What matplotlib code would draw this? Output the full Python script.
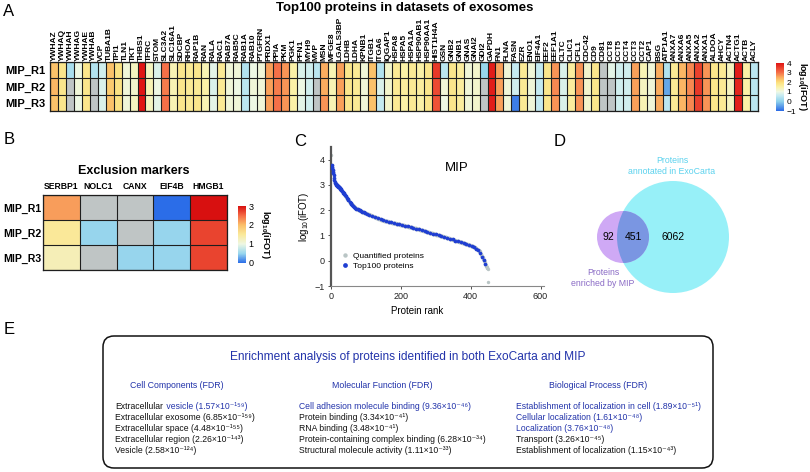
import numpy as np
import matplotlib
matplotlib.use('Agg')
import matplotlib.pyplot as plt
from matplotlib.colors import LinearSegmentedColormap, Normalize
from matplotlib.cm import ScalarMappable
from matplotlib.patches import Circle, FancyBboxPatch

plt.rcParams['font.family'] = ['Liberation Sans', 'DejaVu Sans']
plt.rcParams['mathtext.fontset'] = 'custom'
plt.rcParams['mathtext.rm'] = 'Liberation Sans'
plt.rcParams['mathtext.it'] = 'Liberation Sans:italic'
plt.rcParams['mathtext.bf'] = 'Liberation Sans:bold'

nan = np.nan
# ---------------- data: panel A ----------------
proteins = ["YWHAZ", "YWHAQ", "YWHAH", "YWHAG", "YWHAE", "YWHAB", "VCP", "TUBA1B", "TPI1", "TLN1",
            "TKT", "THBS1", "TFRC", "STOM", "SLC3A2", "SLC16A1", "SDCBP", "RHOA", "RAP1B", "RAN",
            "RALA", "RAC1", "RAB7A", "RAB5C", "RAB1A", "RAB10", "PTGFRN", "PRDX1", "PPIA", "PKM",
            "PGK1", "PFN1", "MYH9", "MVP", "MSN", "MFGE8", "LGALS3BP", "LDHB", "LDHA", "KPNB1",
            "ITGB1", "ITGA6", "IQGAP1", "HSPA8", "HSPA5", "HSPA1A", "HSP90AB1", "HSP90AA1", "HIST1H4A", "GSN",
            "GNB2", "GNB1", "GNAS", "GNAI2", "GDI2", "GAPDH", "FN1", "FLNA", "FASN", "EZR",
            "ENO1", "EIF4A1", "EEF2", "EEF1A1", "CLTC", "CLIC1", "CFL1", "CDC42", "CD9", "CD81",
            "CCT8", "CCT5", "CCT4", "CCT3", "CCT2", "CAP1", "BSG", "ATP1A1", "ANXA7", "ANXA6",
            "ANXA5", "ANXA2", "ANXA1", "ALDOA", "AHCY", "ACTN4", "ACTG1", "ACTB", "ACLY"]
samples = ["MIP_R1", "MIP_R2", "MIP_R3"]
mip_r1 = [2.3, 1.8, 0.3, 1.0, 1.8, 0.4, 0.7, 2.3, 1.9, 1.1,
          1.3, 4.0, 1.3, 0.8, 3.0, 1.4, 1.8, 1.7, 1.8, 1.4,
          0.9, 1.7, 1.1, 1.1, 0.4, 1.0, 1.1, 2.6, 3.0, 2.7,
          1.5, 0.8, 0.7, 0.5, 2.5, 1.4, 2.6, 1.8, 1.7, 1.1,
          2.3, 0.4, 1.2, 1.7, 1.5, 1.7, 1.5, 1.8, 3.6, 0.5,
          1.8, 1.6, 1.1, 1.2, 0.1, 3.9, 2.6, 1.1, 0.6, 1.7,
          1.1, 0.6, 1.8, 2.7, 0.8, 1.6, 2.7, 1.2, 1.8, nan,
          0.9, 0.7, 0.7, 2.6, 1.4, 1.1, 2.5, 0.4, 1.7, 2.4,
          2.8, 3.5, 2.7, 1.8, 1.7, 1.3, 3.9, 1.5, 0.5]
mip_r2 = [2.4, 1.8, nan, 1.1, 1.8, nan, 0.8, 2.2, 1.9, 1.1,
          1.2, 4.0, 1.4, 1.0, 2.9, 1.4, 1.8, 1.7, 1.7, 1.5,
          0.8, 1.7, 1.1, 1.0, 0.5, 1.1, 1.1, 2.6, 2.9, 2.7,
          1.5, 1.0, 0.7, nan, 2.5, 1.4, 2.6, 1.8, 1.7, 1.1,
          2.3, 0.8, 1.2, 1.7, 1.6, 1.7, 1.6, 1.8, 3.4, 1.1,
          1.8, 1.6, 1.1, 1.2, nan, 3.9, 2.6, 1.1, 0.7, 1.7,
          1.1, 0.6, 1.8, 2.8, 0.8, 1.6, 2.7, 1.2, 1.8, nan,
          nan, 0.7, 0.7, 2.6, 1.3, 1.1, 2.5, -0.4, 1.7, 2.4,
          2.8, 3.6, 2.7, 1.8, 1.7, 1.3, 3.8, 1.5, 0.5]
mip_r3 = [2.3, 1.8, nan, 1.0, 1.8, nan, 0.8, 2.3, 1.9, 1.1,
          1.3, 4.0, 1.3, 0.9, 3.0, 1.4, 1.8, 1.7, 1.8, 1.4,
          0.9, 1.7, 1.1, 1.1, 0.5, 1.0, 1.1, 2.6, 3.0, 2.7,
          1.5, 0.9, 0.7, nan, 2.7, 1.4, 2.6, 1.8, 1.7, 1.1,
          2.3, 0.6, 1.2, 1.7, 1.5, 1.7, 1.5, 1.8, 3.3, 1.0,
          1.8, 1.6, 1.1, 1.2, nan, 3.9, 2.6, 1.1, -0.8, 1.7,
          1.1, 0.6, 1.8, 2.7, 0.8, 1.6, 2.7, 1.2, 1.8, nan,
          nan, 0.7, 0.7, 2.6, 1.4, 1.1, 2.5, 0.5, 1.7, 2.4,
          2.8, 3.5, 2.7, 1.8, 1.7, 1.3, 3.9, 1.5, 0.5]

# ---------------- data: panel B ----------------
markers = ["SERBP1", "NOLC1", "CANX", "EIF4B", "HMGB1"]
excl_r1 = [2.2, nan, nan, 0.0, 3.0]
excl_r2 = [1.5, 0.5, nan, 0.5, 2.7]
excl_r3 = [1.3, nan, 0.5, 0.5, 2.7]

# ---------------- data: panel C ----------------
quantified_log_ifot = [
    4.20, 3.78, 3.72, 3.66, 3.60, 3.52, 3.46, 3.38, 3.28, 3.20, 3.13, 3.08, 3.05, 3.02, 3.00,
    2.99, 2.98, 2.97, 2.96, 2.95, 2.93, 2.92, 2.91, 2.90, 2.89, 2.87,
    2.85, 2.83, 2.81, 2.79, 2.77, 2.75, 2.73, 2.71, 2.69, 2.68, 2.66, 2.64, 2.62, 2.60,
    2.58, 2.56, 2.54, 2.52, 2.49, 2.47, 2.45, 2.43, 2.41, 2.39, 2.37, 2.35, 2.32, 2.30,
    2.29, 2.27, 2.26, 2.25, 2.23, 2.22, 2.21, 2.19, 2.18, 2.17, 2.15, 2.14, 2.13, 2.11, 2.10, 2.09, 2.08, 2.07, 2.06,
    2.05, 2.04, 2.04, 2.03, 2.02, 2.01, 2.01, 2.00, 1.99, 1.99, 1.98, 1.97, 1.96, 1.96, 1.95,
    1.94, 1.94, 1.93, 1.92, 1.92, 1.91, 1.90, 1.90, 1.89, 1.88, 1.88, 1.87, 1.87, 1.86,
    1.85, 1.85, 1.84, 1.84, 1.83, 1.83, 1.82, 1.82, 1.81, 1.81, 1.80, 1.79, 1.79, 1.78, 1.78, 1.77, 1.77, 1.76, 1.76, 1.75,
    1.74, 1.74, 1.73, 1.73, 1.72, 1.72, 1.71, 1.71, 1.70, 1.69, 1.69, 1.68, 1.68, 1.67, 1.67, 1.66, 1.66, 1.65, 1.65, 1.64,
    1.63, 1.63, 1.62, 1.62, 1.61, 1.61, 1.60, 1.60,
    1.60, 1.59, 1.59, 1.59, 1.58, 1.58, 1.57, 1.57, 1.57, 1.56, 1.56, 1.56, 1.55, 1.55, 1.54, 1.54, 1.54, 1.53, 1.53, 1.53,
    1.52, 1.52, 1.52, 1.51, 1.51, 1.51, 1.50, 1.50,
    1.50, 1.49, 1.49, 1.49, 1.48, 1.48, 1.48, 1.47, 1.47, 1.47, 1.46, 1.46, 1.46, 1.45, 1.45, 1.45, 1.44, 1.44, 1.44, 1.43,
    1.43, 1.43, 1.42, 1.42, 1.42, 1.41, 1.41, 1.41, 1.40, 1.40, 1.40, 1.39, 1.39, 1.39, 1.38, 1.38, 1.38, 1.37, 1.37, 1.36,
    1.36, 1.36, 1.35, 1.35, 1.35, 1.34, 1.34, 1.34, 1.33, 1.33, 1.33, 1.32, 1.32, 1.32, 1.31, 1.31, 1.31, 1.30, 1.30, 1.29,
    1.29, 1.29, 1.28, 1.28, 1.28, 1.27, 1.27, 1.27, 1.26, 1.26, 1.25, 1.25,
    1.25, 1.24, 1.24, 1.23, 1.23, 1.22, 1.22, 1.22, 1.21, 1.21, 1.20, 1.20, 1.20, 1.19, 1.19, 1.18, 1.18, 1.17, 1.17, 1.17,
    1.16, 1.16, 1.15, 1.15, 1.14, 1.14, 1.14, 1.13, 1.13, 1.12, 1.12, 1.11, 1.11, 1.11, 1.10, 1.10, 1.09, 1.09, 1.08, 1.08,
    1.08, 1.07, 1.07, 1.06, 1.06, 1.05, 1.05, 1.05, 1.04, 1.04, 1.03, 1.03, 1.02, 1.02, 1.02, 1.01, 1.01, 1.00, 1.00, 1.00,
    1.00,
    0.99, 0.99, 0.98, 0.98, 0.98, 0.97, 0.97, 0.96, 0.96, 0.95, 0.95, 0.95, 0.94, 0.94, 0.93, 0.93, 0.92, 0.92, 0.92, 0.91,
    0.91, 0.90, 0.90, 0.89, 0.89, 0.89, 0.88, 0.88, 0.87, 0.87, 0.86, 0.86, 0.86, 0.85, 0.85, 0.84, 0.84, 0.83, 0.83, 0.83,
    0.82, 0.82, 0.81, 0.81, 0.80, 0.80, 0.80, 0.79, 0.79, 0.78, 0.78, 0.78, 0.77, 0.77, 0.77, 0.76, 0.76, 0.76,
    0.75, 0.75, 0.74, 0.74, 0.73, 0.73, 0.72, 0.72, 0.71, 0.71, 0.70, 0.70, 0.69, 0.69, 0.68, 0.68, 0.67, 0.67, 0.66, 0.66,
    0.65, 0.65, 0.64, 0.64, 0.63, 0.63, 0.62, 0.62, 0.61, 0.61, 0.60, 0.60, 0.59, 0.59, 0.58, 0.58, 0.57, 0.57,
    0.56, 0.55, 0.54, 0.53, 0.52, 0.51, 0.50, 0.49, 0.48, 0.47, 0.46, 0.45, 0.44, 0.43, 0.42, 0.41, 0.40, 0.38, 0.37,
    0.34, 0.31, 0.28, 0.25, 0.22, 0.19, 0.16, 0.13, 0.10,
    0.07, 0.04, 0.01, -0.02, -0.06, -0.09, -0.12, -0.15, -0.19, -0.22,
    -0.25, -0.27, -0.29, -0.31, -0.85]
top100_ranks = [2, 3, 4, 5, 6, 7, 8, 9, 10, 11, 12, 13, 14, 15, 16, 17, 18, 19, 20, 21, 22, 23, 24, 25, 26,
                27, 28, 29, 30, 31, 33, 35, 36, 37, 40, 42, 45, 48, 50, 53, 56, 58, 61, 64, 67, 70, 73, 76, 79,
                82, 86, 90, 94, 98, 102, 110, 118, 126, 134, 142, 150, 158, 165, 172, 180, 188, 196, 204, 212,
                220, 228, 236, 244, 252, 260, 268, 276, 284, 292, 300, 308, 316, 324, 332, 340, 348, 356, 364,
                372, 380, 388, 396, 404, 410, 416, 422, 428, 433, 438, 442]

# ---------------- data: panel D ----------------
venn_counts = [92, 451, 6062]   # MIP only, both, ExoCarta only

# ---------------- data: panel E ----------------
cc_terms = [("Extracellular vesicle", "1.57", "⁻¹⁵⁹"), ("Extracellular exosome", "6.85", "⁻¹⁵⁹"),
            ("Extracellular space", "4.48", "⁻¹⁵⁵"), ("Extracellular region", "2.26", "⁻¹⁴³"),
            ("Vesicle", "2.58", "⁻¹²⁴")]
mf_terms = [("Cell adhesion molecule binding", "9.36", "⁻⁴⁶"), ("Protein binding", "3.34", "⁻⁴¹"),
            ("RNA binding", "3.48", "⁻⁴¹"), ("Protein-containing complex binding", "6.28", "⁻³⁴"),
            ("Structural molecule activity", "1.11", "⁻³³")]
bp_terms = [("Establishment of localization in cell", "1.89", "⁻⁵¹"), ("Cellular localization", "1.61", "⁻⁴⁸"),
            ("Localization", "3.76", "⁻⁴⁸"), ("Transport", "3.26", "⁻⁴⁵"),
            ("Establishment of localization", "1.15", "⁻⁴³")]

# ---------------- figure ----------------
W, H = 810, 472
fig = plt.figure(figsize=(W / 100, H / 100), dpi=100)


def px_axes(x0, y0, x1, y1):
    return fig.add_axes([x0 / W, 1 - y1 / H, (x1 - x0) / W, (y1 - y0) / H])


GRAY = '#bfc5c5'
EDGE = '#1e1e1e'

# colormap for panel A (-1..4)
a_nodes = [(-1, '#2a6ae6'), (0, '#8fd2ec'), (0.6, '#c6ebf2'), (1.0, '#eef8e4'), (1.5, '#fbf2a8'),
           (2.0, '#fcdf7a'), (2.5, '#fbae60'), (3.0, '#f57048'), (4.0, '#e01414')]
cmap_a = LinearSegmentedColormap.from_list('a', [((v + 1) / 5, c) for v, c in a_nodes])
cmap_a.set_bad(GRAY)

# colormap for panel B (0..3)
b_nodes = [(0, '#2b6de8'), (0.5, '#99d7ee'), (1.0, '#eef7e2'), (1.5, '#fae99a'), (2.0, '#fbbf6a'),
           (2.5, '#f56a45'), (3.0, '#d81010')]
cmap_b = LinearSegmentedColormap.from_list('b', [(v / 3, c) for v, c in b_nodes])
cmap_b.set_bad(GRAY)


def heat(ax, mat, cmap, vmin, vmax, xl, yl, xfs, yfs, xrot):
    m = np.ma.masked_invalid(np.array(mat, dtype=float))
    ax.imshow(m, cmap=cmap, vmin=vmin, vmax=vmax, aspect='auto', interpolation='nearest')
    nr, nc = m.shape
    ax.vlines(np.arange(-0.5, nc + 0.5), -0.5, nr - 0.5, color=EDGE, lw=0.8)
    ax.hlines(np.arange(-0.5, nr + 0.5), -0.5, nc - 0.5, color=EDGE, lw=0.8)
    ax.set_xlim(-0.5, nc - 0.5)
    ax.set_ylim(nr - 0.5, -0.5)
    ax.set_xticks(range(nc))
    ax.set_xticklabels(xl, rotation=xrot, fontsize=xfs, fontweight='bold')
    ax.xaxis.tick_top()
    ax.set_yticks(range(nr))
    ax.set_yticklabels(yl, fontsize=yfs, fontweight='bold')
    ax.tick_params(length=0, pad=2)
    for s in ax.spines.values():
        s.set_linewidth(0.9)
        s.set_color(EDGE)


# ---- Panel A ----
axA = px_axes(50, 62, 758, 111)
heat(axA, [mip_r1, mip_r2, mip_r3], cmap_a, -1, 4, proteins, samples, 6.0, 8, 90)
axA.tick_params(axis='x', pad=1)
axA.tick_params(axis='y', pad=3)

caxA = px_axes(776, 63, 784, 111)
cbA = fig.colorbar(ScalarMappable(Normalize(-1, 4), cmap_a), cax=caxA, ticks=[-1, 0, 1, 2, 3, 4])
cbA.outline.set_visible(False)
caxA.tick_params(length=0, labelsize=6, pad=2)
cbA.set_label(r'$\mathbf{log_{10}(iFOT)}$', rotation=270, fontsize=6.5, labelpad=9)

# ---- Panel B ----
axB = px_axes(43, 195, 227, 270)
heat(axB, [excl_r1, excl_r2, excl_r3], cmap_b, 0, 3, markers, samples, 6.2, 7.6, 0)
axB.tick_params(axis='x', pad=3)
axB.tick_params(axis='y', pad=1.5)

caxB = px_axes(238, 206, 246, 263)
cbB = fig.colorbar(ScalarMappable(Normalize(0, 3), cmap_b), cax=caxB, ticks=[0, 1, 2, 3])
cbB.outline.set_visible(False)
caxB.tick_params(length=0, labelsize=6.5, pad=2)
cbB.set_label(r'$\mathbf{log_{10}(iFOT)}$', rotation=270, fontsize=6.5, labelpad=13)

# ---- Panel C ----
axC = px_axes(331, 147, 544, 286)
ranks = np.arange(1, len(quantified_log_ifot) + 1)
qv = np.array(quantified_log_ifot)
axC.scatter(ranks, qv, s=6, color='#b9c5c5', linewidths=0, label='Quantified proteins', zorder=2)
tr = np.array(top100_ranks)
axC.scatter(tr, qv[tr - 1], s=7, color='#1f3ed2', linewidths=0, label='Top100 proteins', zorder=3)
axC.set_xlim(0, 610)
axC.set_ylim(-1, 4.5)
axC.set_xticks([0, 200, 400, 600])
axC.set_yticks([-1, 0, 1, 2, 3, 4])
axC.tick_params(labelsize=6.5, length=2.5, width=0.6, pad=2, colors='#333333')
axC.tick_params(axis='both', labelcolor='#222222')
for s in ['top', 'right']:
    axC.spines[s].set_visible(False)
axC.spines['left'].set_linewidth(1.6)
axC.spines['left'].set_color('#555555')
axC.spines['bottom'].set_linewidth(0.8)
axC.spines['bottom'].set_color('#888888')
axC.set_xlabel('Protein rank', fontsize=7)
axC.xaxis.set_label_coords((417 - 331) / 213, -(306 - 286) / 139)
axC.set_ylabel(r'log$_{10}$(iFOT)', fontsize=7)
axC.yaxis.set_label_coords(-(331 - 311) / 213, (286 - 217) / 139)
axC.text((457 - 331) / 213, 1 - (168 - 147) / 139, 'MIP', transform=axC.transAxes,
         fontsize=9.5, ha='center', va='center')
leg = axC.legend(loc='upper left', bbox_to_anchor=(0.02, 0.27), frameon=False, fontsize=6,
                 handletextpad=0.2, labelspacing=0.25, markerscale=1.3, borderaxespad=0, handlelength=1.5)

# ---- overlay (pixel coords) ----
ov = fig.add_axes([0, 0, 1, 1])
ov.set_xlim(0, W)
ov.set_ylim(H, 0)
ov.axis('off')
ov.patch.set_alpha(0)

# panel letters
for letter, x, y in [('A', 9, 12), ('B', 9, 140), ('C', 300, 141), ('D', 560, 141), ('E', 9, 330)]:
    ov.text(x, y, letter, fontsize=12, ha='center', va='center')

ov.text(405, 8, 'Top100 proteins in datasets of exosomes', fontsize=9.5, fontweight='bold',
        ha='center', va='center')
ov.text(134, 171, 'Exclusion markers', fontsize=9, fontweight='bold', ha='center', va='center')

# ---- Panel D: Venn ----
c_big = Circle((673, 237), 56, facecolor='#97f0f8', edgecolor='none', zorder=1)
c_small = Circle((623, 237), 26, facecolor='#cfa9f5', edgecolor='none', zorder=2)
ov.add_patch(c_big)
ov.add_patch(c_small)
c_int = Circle((623, 237), 26, facecolor='#7a96e2', edgecolor='none', zorder=3)
ov.add_patch(c_int)
c_int.set_clip_path(c_big)
ov.text(608, 237, str(venn_counts[0]), fontsize=7.5, ha='center', va='center', zorder=5)
ov.text(633, 237, str(venn_counts[1]), fontsize=7.5, ha='center', va='center', zorder=5)
ov.text(673, 237, str(venn_counts[2]), fontsize=7.5, ha='center', va='center', zorder=5)
ov.text(672, 166, 'Proteins\nannotated in ExoCarta', fontsize=6.3, color='#5cd2ee',
        ha='center', va='center', linespacing=1.15)
ov.text(603, 278, 'Proteins\nenriched by MIP', fontsize=6.3, color='#8b6cc6',
        ha='center', va='center', linespacing=1.15)

# ---- Panel E ----
box = FancyBboxPatch((103, 336), 610, 132, boxstyle='round,pad=0,rounding_size=11',
                     facecolor='none', edgecolor='#111111', lw=1.1)
ov.add_patch(box)
BLUE = '#2233aa'
ov.text(408, 357, 'Enrichment analysis of proteins identified in both ExoCarta and MIP',
        fontsize=8.6, color=BLUE, ha='center', va='center')
ov.text(177, 385, 'Cell Components (FDR)', fontsize=6.3, color=BLUE, ha='center', va='center')
ov.text(382, 385, 'Molecular Function (FDR)', fontsize=6.3, color=BLUE, ha='center', va='center')
ov.text(598, 385, 'Biological Process (FDR)', fontsize=6.3, color=BLUE, ha='center', va='center')

renderer = fig.canvas.get_renderer()


def seg_line(x, y, segs):
    for s, c in segs:
        t = ov.text(x, y, s, fontsize=6.2, color=c, ha='left', va='baseline')
        bb = t.get_window_extent(renderer=renderer)
        x += bb.width + 0.5


row_y = [409, 420, 431, 442, 453]
BLK = '#111111'
for i, (term, mant, ex) in enumerate(cc_terms):
    fdr = '(%s×10%s)' % (mant, ex)
    if i == 0:
        seg_line(115, row_y[i], [('Extracellular', BLK), (' vesicle ' + fdr, BLUE)])
    else:
        seg_line(115, row_y[i], [(term + ' ' + fdr, BLK)])
for i, (term, mant, ex) in enumerate(mf_terms):
    fdr = '(%s×10%s)' % (mant, ex)
    seg_line(299, row_y[i], [(term + ' ' + fdr, BLUE if i == 0 else BLK)])
for i, (term, mant, ex) in enumerate(bp_terms):
    fdr = '(%s×10%s)' % (mant, ex)
    seg_line(516, row_y[i], [(term + ' ' + fdr, BLUE if i < 3 else BLK)])

fig.savefig('out.png', dpi=100)
